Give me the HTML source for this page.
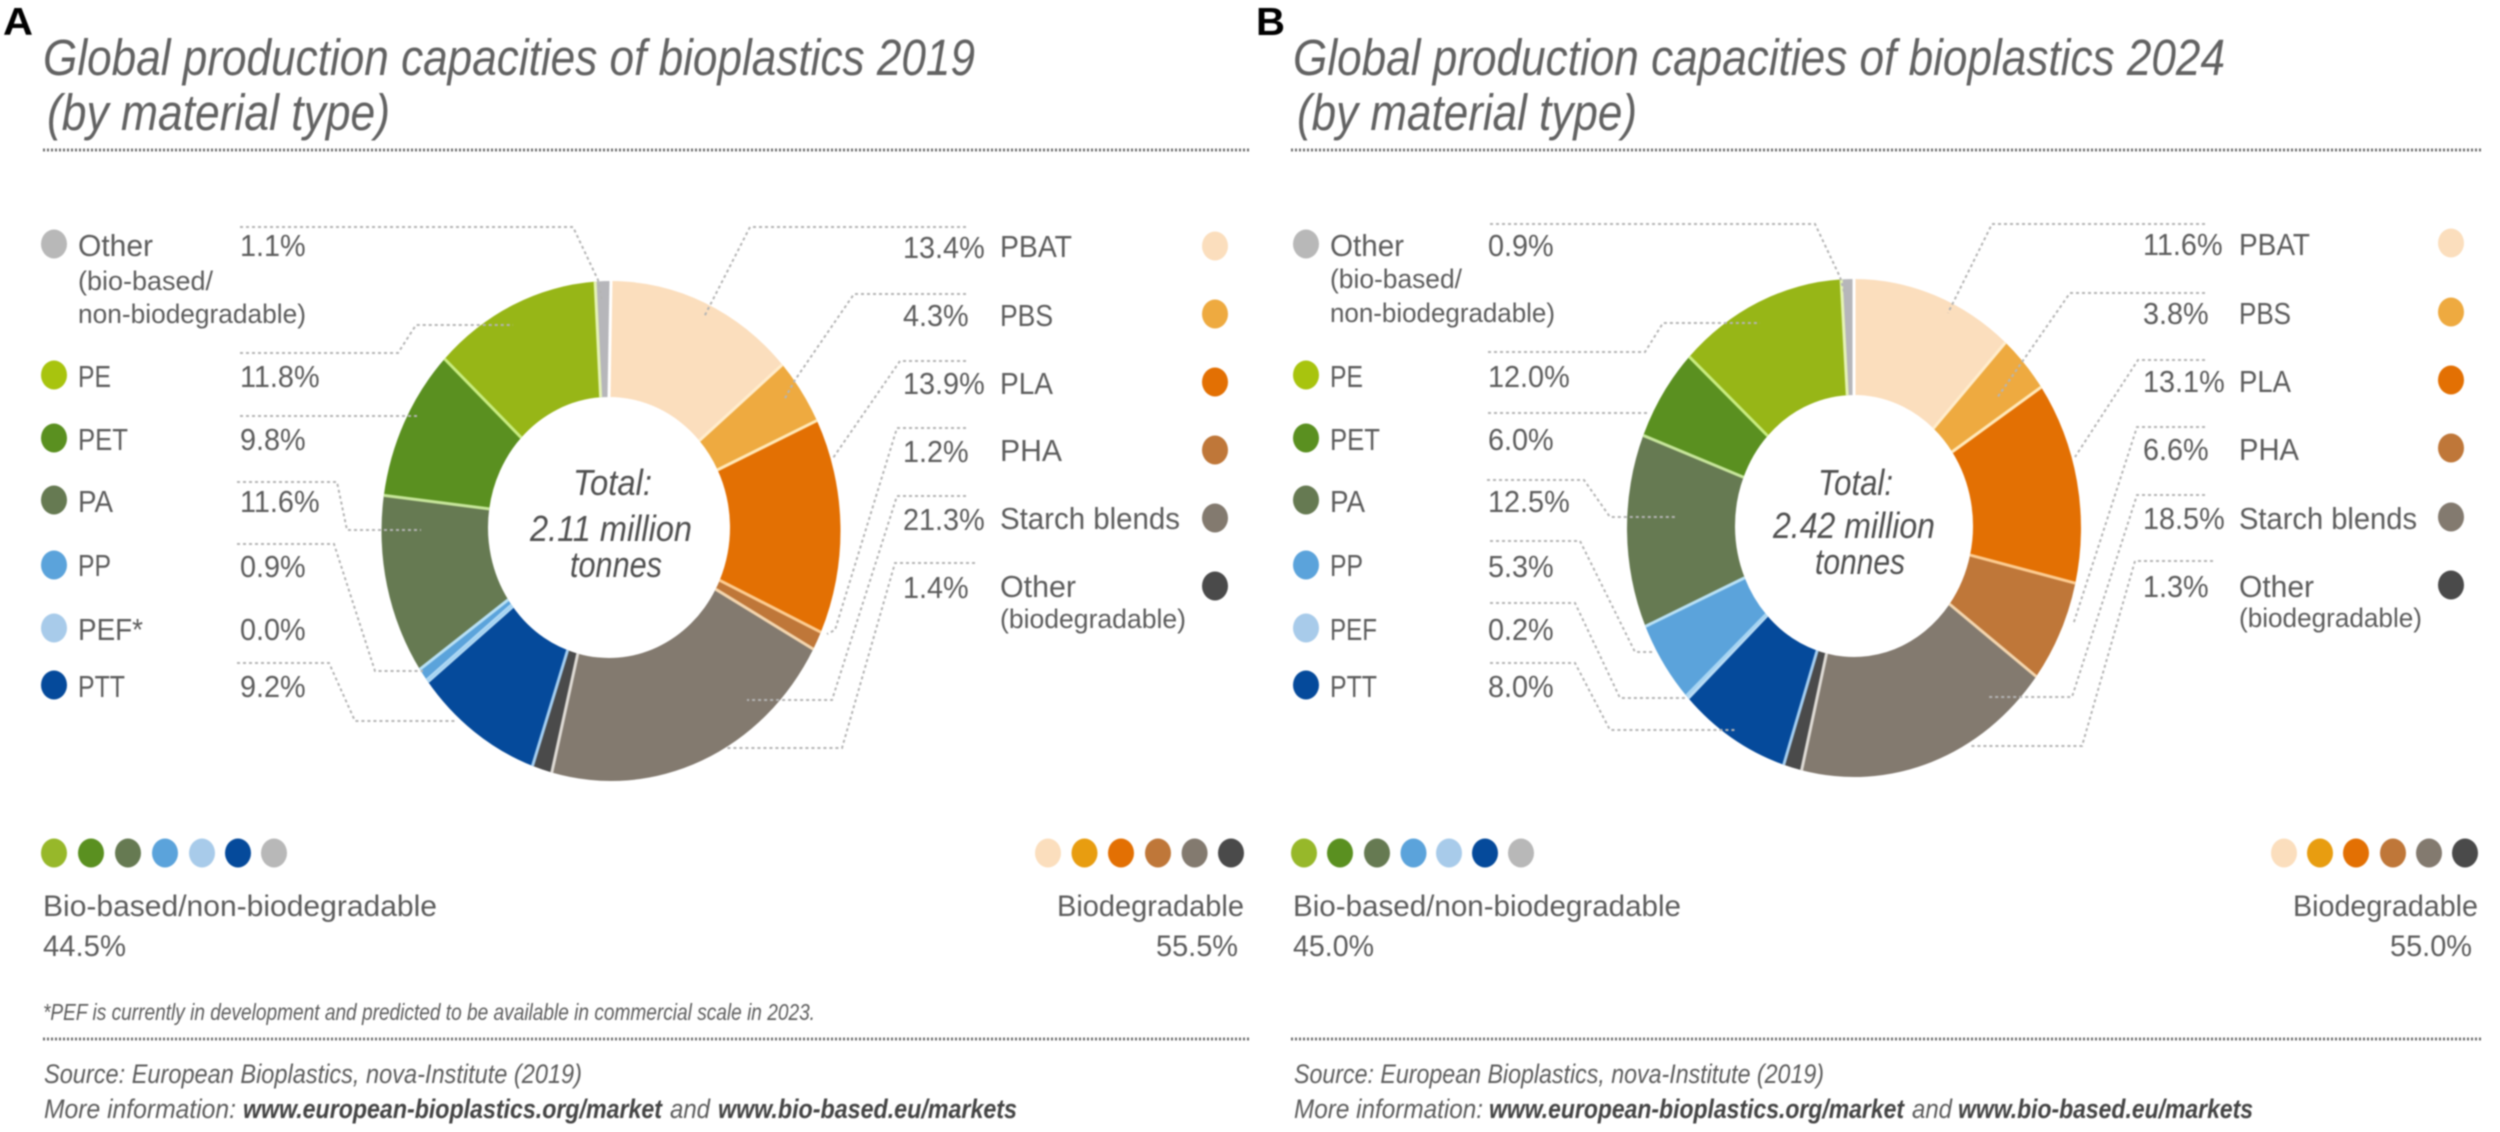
<!DOCTYPE html>
<html lang="en">
<head>
<meta charset="utf-8">
<title>Global production capacities of bioplastics</title>
<style>
html,body{margin:0;padding:0;background:#fff;width:2500px;height:1132px;overflow:hidden}
svg{display:block;filter:blur(.7px)}
text{font-family:"Liberation Sans",sans-serif;fill:#5c5c5c}
.it{font-style:italic}
.bd{font-weight:bold;fill:#444}
.title{font-size:51px;font-style:italic;fill:#626262}
.name{font-size:31px}
.sub{font-size:27px}
.total{font-size:36px;font-style:italic;fill:#505050}
.share{font-size:30px}
.note{font-size:23px;font-style:italic}
.src{font-size:27px;font-style:italic}
.letter{font-size:39px;font-weight:bold;fill:#000}
.rule{fill:none;stroke:#6e6e6e;stroke-width:3;stroke-dasharray:2 2}
.lead{fill:none;stroke:#b4b4b4;stroke-width:2;stroke-dasharray:3 3}
</style>
</head>
<body>
<svg id="chart" xmlns="http://www.w3.org/2000/svg" width="2500" height="1132" viewBox="0 0 2500 1132">
  <rect width="2500" height="1132" fill="#fff"/>

  <g id="slices-a"></g>
  <g id="slices-b"></g>

  <g class="leaders">
    <polyline class="lead" points="240,227 573,227 598,280 602,300"/>
    <polyline class="lead" points="966,227 750,227 704,317"/>
    <polyline class="lead" points="240,353 398,353 416,325 513,325"/>
    <polyline class="lead" points="240,416 420,416"/>
    <polyline class="lead" points="237,482 337,482 347,530 421,530"/>
    <polyline class="lead" points="237,544 334,544 375,671 423,671"/>
    <polyline class="lead" points="237,663 329,663 355,721 457,721"/>
    <polyline class="lead" points="966,294 854,294 795,380 784,400"/>
    <polyline class="lead" points="966,361 900,361 833,458"/>
    <polyline class="lead" points="966,428 897,428 835,630 827,634"/>
    <polyline class="lead" points="966,496 897,496 832,700 747,700"/>
    <polyline class="lead" points="975,563 895,563 842,748 727,748"/>
  </g>
  <g class="leaders">
    <polyline class="lead" points="1490,224 1815,224 1840,277 1845,295"/>
    <polyline class="lead" points="2205,224 1992,224 1948,313"/>
    <polyline class="lead" points="1488,352 1645,352 1663,323 1760,323"/>
    <polyline class="lead" points="1488,413 1650,413"/>
    <polyline class="lead" points="1487,480 1584,480 1610,517 1675,517"/>
    <polyline class="lead" points="1490,541 1580,541 1635,652 1655,652"/>
    <polyline class="lead" points="1490,603 1575,603 1620,698 1685,698"/>
    <polyline class="lead" points="1490,663 1575,663 1610,730 1735,730"/>
    <polyline class="lead" points="2205,293 2070,293 1997,398"/>
    <polyline class="lead" points="2205,360 2138,360 2075,457"/>
    <polyline class="lead" points="2205,427 2137,427 2073,625"/>
    <polyline class="lead" points="2205,495 2137,495 2072,697 1987,697"/>
    <polyline class="lead" points="2213,561 2135,561 2082,746 1970,746"/>
  </g>

  <g id="legend-dynamic"></g>

  <!-- Panel A -->
  <text class="letter" x="3" y="35" textLength="30" lengthAdjust="spacingAndGlyphs">A</text>
  <text class="title" x="43" y="75" textLength="932" lengthAdjust="spacingAndGlyphs">Global production capacities of bioplastics 2019</text>
  <text class="title" x="47" y="130" textLength="343" lengthAdjust="spacingAndGlyphs">(by material type)</text>
  <line class="rule" x1="43" y1="150" x2="1249" y2="150"/>

  <text class="name" x="78" y="256" textLength="75" lengthAdjust="spacingAndGlyphs">Other</text>
  <text class="sub" x="78" y="290" textLength="135" lengthAdjust="spacingAndGlyphs">(bio-based/</text>
  <text class="sub" x="78" y="323" textLength="228" lengthAdjust="spacingAndGlyphs">non-biodegradable)</text>
  <text class="name" x="78" y="387" textLength="33" lengthAdjust="spacingAndGlyphs">PE</text>
  <text class="name" x="78" y="450" textLength="50" lengthAdjust="spacingAndGlyphs">PET</text>
  <text class="name" x="78" y="512" textLength="35" lengthAdjust="spacingAndGlyphs">PA</text>
  <text class="name" x="78" y="576" textLength="33" lengthAdjust="spacingAndGlyphs">PP</text>
  <text class="name" x="78" y="640" textLength="65" lengthAdjust="spacingAndGlyphs">PEF*</text>
  <text class="name" x="78" y="697" textLength="47" lengthAdjust="spacingAndGlyphs">PTT</text>

  <text class="name" x="1000" y="257" textLength="72" lengthAdjust="spacingAndGlyphs">PBAT</text>
  <text class="name" x="1000" y="326" textLength="53" lengthAdjust="spacingAndGlyphs">PBS</text>
  <text class="name" x="1000" y="394" textLength="53" lengthAdjust="spacingAndGlyphs">PLA</text>
  <text class="name" x="1000" y="461" textLength="62" lengthAdjust="spacingAndGlyphs">PHA</text>
  <text class="name" x="1000" y="529" textLength="180" lengthAdjust="spacingAndGlyphs">Starch blends</text>
  <text class="name" x="1000" y="597" textLength="76" lengthAdjust="spacingAndGlyphs">Other</text>
  <text class="sub" x="1000" y="628" textLength="186" lengthAdjust="spacingAndGlyphs">(biodegradable)</text>

  <text class="total" x="573" y="495" textLength="79" lengthAdjust="spacingAndGlyphs">Total:</text>
  <text class="total" x="530" y="541" textLength="162" lengthAdjust="spacingAndGlyphs">2.11 million</text>
  <text class="total" x="570" y="577" textLength="92" lengthAdjust="spacingAndGlyphs">tonnes</text>

  <text class="share" x="43" y="916" textLength="394" lengthAdjust="spacingAndGlyphs">Bio-based/non-biodegradable</text>
  <text class="share" x="43" y="956" textLength="83" lengthAdjust="spacingAndGlyphs">44.5%</text>
  <text class="share" x="1057" y="916" textLength="187" lengthAdjust="spacingAndGlyphs">Biodegradable</text>
  <text class="share" x="1156" y="956" textLength="82" lengthAdjust="spacingAndGlyphs">55.5%</text>
  <text class="note" x="43" y="1020" textLength="772" lengthAdjust="spacingAndGlyphs">*PEF is currently in development and predicted to be available in commercial scale in 2023.</text>
  <line class="rule" x1="43" y1="1039" x2="1250" y2="1039"/>
  <text class="src" x="44" y="1083" textLength="538" lengthAdjust="spacingAndGlyphs">Source: European Bioplastics, nova-Institute (2019)</text>
  <text class="src" x="44" y="1118" textLength="192" lengthAdjust="spacingAndGlyphs">More information:</text>
  <text class="src bd" x="243" y="1118" textLength="419" lengthAdjust="spacingAndGlyphs">www.european-bioplastics.org/market</text>
  <text class="src" x="670" y="1118" textLength="40" lengthAdjust="spacingAndGlyphs">and</text>
  <text class="src bd" x="718" y="1118" textLength="299" lengthAdjust="spacingAndGlyphs">www.bio-based.eu/markets</text>

  <!-- Panel B -->
  <text class="letter" x="1256" y="35" textLength="29" lengthAdjust="spacingAndGlyphs">B</text>
  <text class="title" x="1293" y="75" textLength="932" lengthAdjust="spacingAndGlyphs">Global production capacities of bioplastics 2024</text>
  <text class="title" x="1297" y="130" textLength="340" lengthAdjust="spacingAndGlyphs">(by material type)</text>
  <line class="rule" x1="1291" y1="150" x2="2482" y2="150"/>

  <text class="name" x="1330" y="256" textLength="74" lengthAdjust="spacingAndGlyphs">Other</text>
  <text class="sub" x="1330" y="288" textLength="132" lengthAdjust="spacingAndGlyphs">(bio-based/</text>
  <text class="sub" x="1330" y="322" textLength="225" lengthAdjust="spacingAndGlyphs">non-biodegradable)</text>
  <text class="name" x="1330" y="387" textLength="33" lengthAdjust="spacingAndGlyphs">PE</text>
  <text class="name" x="1330" y="450" textLength="50" lengthAdjust="spacingAndGlyphs">PET</text>
  <text class="name" x="1330" y="512" textLength="35" lengthAdjust="spacingAndGlyphs">PA</text>
  <text class="name" x="1330" y="576" textLength="33" lengthAdjust="spacingAndGlyphs">PP</text>
  <text class="name" x="1330" y="640" textLength="47" lengthAdjust="spacingAndGlyphs">PEF</text>
  <text class="name" x="1330" y="697" textLength="47" lengthAdjust="spacingAndGlyphs">PTT</text>

  <text class="name" x="2239" y="255" textLength="71" lengthAdjust="spacingAndGlyphs">PBAT</text>
  <text class="name" x="2239" y="324" textLength="52" lengthAdjust="spacingAndGlyphs">PBS</text>
  <text class="name" x="2239" y="392" textLength="52" lengthAdjust="spacingAndGlyphs">PLA</text>
  <text class="name" x="2239" y="460" textLength="60" lengthAdjust="spacingAndGlyphs">PHA</text>
  <text class="name" x="2239" y="529" textLength="178" lengthAdjust="spacingAndGlyphs">Starch blends</text>
  <text class="name" x="2239" y="597" textLength="75" lengthAdjust="spacingAndGlyphs">Other</text>
  <text class="sub" x="2239" y="627" textLength="183" lengthAdjust="spacingAndGlyphs">(biodegradable)</text>

  <text class="total" x="1818" y="495" textLength="75" lengthAdjust="spacingAndGlyphs">Total:</text>
  <text class="total" x="1773" y="538" textLength="162" lengthAdjust="spacingAndGlyphs">2.42 million</text>
  <text class="total" x="1815" y="574" textLength="90" lengthAdjust="spacingAndGlyphs">tonnes</text>

  <text class="share" x="1293" y="916" textLength="388" lengthAdjust="spacingAndGlyphs">Bio-based/non-biodegradable</text>
  <text class="share" x="1293" y="956" textLength="81" lengthAdjust="spacingAndGlyphs">45.0%</text>
  <text class="share" x="2293" y="916" textLength="185" lengthAdjust="spacingAndGlyphs">Biodegradable</text>
  <text class="share" x="2390" y="956" textLength="82" lengthAdjust="spacingAndGlyphs">55.0%</text>
  <line class="rule" x1="1291" y1="1039" x2="2482" y2="1039"/>
  <text class="src" x="1294" y="1083" textLength="530" lengthAdjust="spacingAndGlyphs">Source: European Bioplastics, nova-Institute (2019)</text>
  <text class="src" x="1294" y="1118" textLength="189" lengthAdjust="spacingAndGlyphs">More information:</text>
  <text class="src bd" x="1489" y="1118" textLength="415" lengthAdjust="spacingAndGlyphs">www.european-bioplastics.org/market</text>
  <text class="src" x="1912" y="1118" textLength="40" lengthAdjust="spacingAndGlyphs">and</text>
  <text class="src bd" x="1958" y="1118" textLength="295" lengthAdjust="spacingAndGlyphs">www.bio-based.eu/markets</text>
</svg>

<script>
// Chart data: clockwise from 12 o'clock
const categories = ["PBAT", "PBS", "PLA", "PHA", "Starch blends", "Other (biodegradable)", "PTT", "PEF", "PP", "PA", "PET", "PE", "Other (bio-based)"];
const values2019 = [13.4, 4.3, 13.9, 1.2, 21.3, 1.4, 9.2, 0.0, 0.9, 11.6, 9.8, 11.8, 1.1];
const values2024 = [11.6, 3.8, 13.1, 6.6, 18.5, 1.3, 8.0, 0.2, 5.3, 12.5, 6.0, 12.0, 0.9];
const sliceColors = ["#fbdebd", "#eeaa40", "#e37003", "#bf7739", "#837a6f", "#4a4a4a", "#054a9b", "#a8cbea", "#5ba3db", "#667a52", "#5a9020", "#97b617", "#b6b6ba"];
const edgeColors = ["#ffffff", "#ffeccc", "#ffe8b8", "#fccb90", "#f3d5ae", "#dedad4", "#a3cdf0", "#b9dcf5", "#a6d4f2", "#b8e0f5", "#c6e59a", "#c8ec80", "#e4f2b4"];
const legendColors = ["#fbdebd", "#eeaa40", "#e37003", "#bf7739", "#837a6f", "#4a4a4a", "#054a9b", "#a8cbea", "#5ba3db", "#667a52", "#5a9020", "#a8c40e", "#b8b8b8"];
const footerColors = ["#fbdebd", "#e89d10", "#e37003", "#bf7739", "#837a6f", "#4a4a4a"];
const footerColorsNonBio = ["#97b82a", "#5a9020", "#667a52", "#5ba3db", "#a8cbea", "#054a9b", "#b8b8b8"];

const NS = "http://www.w3.org/2000/svg";

function angleOf(values, cumulative) {
  const total = values.reduce(function (a, b) { return a + b; }, 0);
  return cumulative / total * 2 * Math.PI;
}
function ringPoint(ring, angle) {
  return [ring.cx + ring.rx * Math.sin(angle), ring.cy - ring.ry * Math.cos(angle)];
}
function drawDonut(host, values, outer, inner) {
  let cum = 0;
  const edges = [];
  values.forEach(function (v, i) {
    const a0 = angleOf(values, cum);
    const a1 = angleOf(values, cum + v);
    cum += v;
    edges.push(a0);
    if (v <= 0) return;
    const p0 = ringPoint(outer, a0), p1 = ringPoint(outer, a1);
    const p2 = ringPoint(inner, a1), p3 = ringPoint(inner, a0);
    const large = (a1 - a0) > Math.PI ? 1 : 0;
    const d = "M" + p0[0] + " " + p0[1] +
      "A" + outer.rx + " " + outer.ry + " 0 " + large + " 1 " + p1[0] + " " + p1[1] +
      "L" + p2[0] + " " + p2[1] +
      "A" + inner.rx + " " + inner.ry + " 0 " + large + " 0 " + p3[0] + " " + p3[1] + "Z";
    const path = document.createElementNS(NS, "path");
    path.setAttribute("d", d);
    path.setAttribute("fill", sliceColors[i]);
    
    
    path.setAttribute("data-category", categories[i]);
    host.appendChild(path);
  });
  edges.forEach(function (a, i) {
    const p = ringPoint(outer, a), q = ringPoint(inner, a);
    const ln = document.createElementNS(NS, "line");
    ln.setAttribute("x1", p[0]); ln.setAttribute("y1", p[1]);
    ln.setAttribute("x2", q[0]); ln.setAttribute("y2", q[1]);
    ln.setAttribute("stroke", edgeColors[i]);
    ln.setAttribute("stroke-width", values[i] <= 0 ? 5 : 3);
    
    
    host.appendChild(ln);
  });
}
function addDot(host, x, y, color) {
  const e = document.createElementNS(NS, "ellipse");
  e.setAttribute("cx", x); e.setAttribute("cy", y);
  e.setAttribute("rx", 13); e.setAttribute("ry", 14.5);
  e.setAttribute("fill", color);
  
  
  host.appendChild(e);
}
function addPct(host, x, y, value) {
  const t = document.createElementNS(NS, "text");
  t.setAttribute("class", "name");
  t.setAttribute("transform", "translate(" + x + " " + y + ") scale(.93 1)");
  t.textContent = value.toFixed(1) + "%";
  
  
  host.appendChild(t);
}
function drawLegend(host, values, layout) {
  // left column lists categories bottom-up from index 12 to 6
  layout.leftRows.forEach(function (y, r) {
    const i = 12 - ((r === 0) ? 0 : r);
    addDot(host, layout.leftDotX, y, legendColors[i]);
    addPct(host, layout.leftPctX, y + 12, values[i]);
  });
  layout.rightRows.forEach(function (y, i) {
    addDot(host, layout.rightDotX, y, legendColors[i]);
    addPct(host, layout.rightPctX, y + 12, values[i]);
  });
  layout.footLeftX.forEach(function (x, i) { addDot(host, x, 853, footerColorsNonBio[i]); });
  layout.footRightX.forEach(function (x, i) { addDot(host, x, 853, footerColors[i]); });
}

drawDonut(document.getElementById("slices-a"), values2019,
  { cx: 611, cy: 531, rx: 229.5, ry: 250 }, { cx: 609, cy: 527.5, rx: 121, ry: 130.5 });
drawDonut(document.getElementById("slices-b"), values2024,
  { cx: 1854, cy: 528, rx: 227, ry: 249 }, { cx: 1854, cy: 526, rx: 119, ry: 131 });

const legendHost = document.getElementById("legend-dynamic");
drawLegend(legendHost, values2019, {
  leftRows: [244, 375, 438, 500, 565, 628, 685],
  rightRows: [246, 314, 382, 450, 518, 586],
  leftDotX: 54, leftPctX: 240, rightDotX: 1215, rightPctX: 903,
  footLeftX: [54, 91, 128, 165, 202, 238, 274],
  footRightX: [1048, 1084.5, 1121, 1158, 1194.6, 1231]
});
drawLegend(legendHost, values2024, {
  leftRows: [244, 375, 438, 500, 565, 628, 685],
  rightRows: [243, 312, 380, 448, 517, 585],
  leftDotX: 1306, leftPctX: 1488, rightDotX: 2451, rightPctX: 2143,
  footLeftX: [1304, 1340, 1377, 1413.5, 1449, 1485, 1521],
  footRightX: [2284, 2320, 2356, 2393, 2429, 2465]
});
</script>
</body>
</html>
